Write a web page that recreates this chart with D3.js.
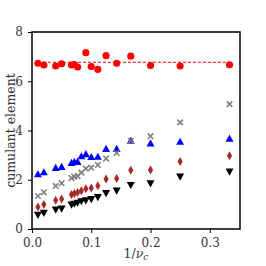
<!DOCTYPE html>
<html>
<head>
<meta charset="utf-8">
<script src="https://cdn.jsdelivr.net/npm/d3@7"></script>
<style>
  body { margin: 0; background: #fff; }
  svg { display: block; }
  text { font-family: "DejaVu Serif", "Liberation Serif", serif; }
</style>
</head>
<body>
<svg width="266" height="266"></svg>
<script>
// 1/nu_c for nu_c = 100, 50, 25, 20, 15, 14, 13, 12, 11, 10, 9, 8, 7, 6, 5, 4, 3
const nuC = [100, 50, 25, 20, 15, 14, 13, 12, 11, 10, 9, 8, 7, 6, 5, 4, 3]

const red = [6.73, 6.66, 6.62, 6.71, 6.66, 6.68, 6.58, null, 7.16, 6.60, 6.48, 7.04, 6.73, 7.02, 6.64, 6.62, 6.67]
const blue = [2.22, 2.30, 2.48, 2.52, 2.68, 2.72, 2.72, 2.95, 3.04, 2.92, 2.93, 3.25, 3.25, 3.58, 3.47, 3.54, 3.67]
const gray = [1.34, 1.49, 1.75, 1.86, 2.07, 2.13, 2.15, 2.29, 2.45, 2.49, 2.60, 2.86, 3.09, 3.58, 3.77, 4.33, 5.07]
const brown = [0.89, 1.00, 1.17, 1.22, 1.40, 1.44, 1.48, 1.55, 1.63, 1.67, 1.76, 2.03, 2.05, 2.39, 2.40, 2.74, 2.97]
const black = [0.58, 0.66, 0.79, 0.83, 0.99, 1.03, 1.07, 1.13, 1.17, 1.22, 1.30, 1.46, 1.56, 1.79, 1.86, 2.13, 2.33]
const redMean = 6.77

const xTicks = [0, 0.1, 0.2, 0.3]
const yTicks = [0, 2, 4, 6, 8]

const margin = { left: 32, right: 26, top: 32, bottom: 37 }
const width = 266
const height = 266

const svg = d3.select('svg')
const x = d3.scaleLinear().domain([0, 0.351]).range([margin.left, width - margin.right])
const y = d3.scaleLinear().domain([0, 8]).range([height - margin.bottom, margin.top])

svg.append('g')
  .attr('transform', 'translate(0,' + (height - margin.bottom) + ')')
  .call(d3.axisBottom(x).tickValues(xTicks).tickFormat(d3.format('.1f')).tickSize(4).tickPadding(5))
svg.append('g')
  .attr('transform', 'translate(' + margin.left + ',0)')
  .call(d3.axisLeft(y).tickValues(yTicks).tickFormat(d3.format('d')).tickSize(4).tickPadding(5))

svg.selectAll('.domain').remove()
svg.selectAll('.tick line').attr('stroke', '#000').attr('stroke-width', 1)
svg.selectAll('.tick text').attr('font-size', 12).attr('fill', '#333')

svg.append('rect')
  .attr('x', margin.left).attr('y', margin.top)
  .attr('width', width - margin.left - margin.right)
  .attr('height', height - margin.top - margin.bottom)
  .attr('fill', 'none').attr('stroke', '#000').attr('stroke-width', 1.5)

// dashed mean line of the red series
svg.append('line')
  .attr('x1', x(1 / nuC[0])).attr('x2', x(1 / nuC[nuC.length - 1]))
  .attr('y1', y(redMean)).attr('y2', y(redMean))
  .attr('stroke', '#ff0000').attr('stroke-width', 1).attr('stroke-dasharray', '3,2')

function pts(vals) {
  return nuC.map((n, i) => ({ x: 1 / n, v: vals[i] })).filter(d => d.v != null)
}

const series = [
  { vals: red, color: '#ff0000', path: d3.symbol(d3.symbolCircle, 40)() },
  { vals: blue, color: '#0000ff', path: 'M0,-4.2L4,3L-4,3Z' },
  { vals: gray, color: '#808080', path: d3.symbol(d3.symbolX, 22)() },
  { vals: brown, color: '#a52a2a', path: 'M0,-4.5L2.6,0L0,4.5L-2.6,0Z' },
  { vals: black, color: '#000000', path: 'M0,4.2L4,-3L-4,-3Z' },
]

series.forEach(s => {
  svg.append('g')
    .selectAll('path')
    .data(pts(s.vals))
    .join('path')
    .attr('d', s.path)
    .attr('transform', d => 'translate(' + x(d.x) + ',' + y(d.v) + ')')
    .attr('fill', s.color)
    .attr('stroke', s.color)
    .attr('stroke-width', s.color === '#808080' ? 1.6 : 0)
})

svg.append('text')
  .attr('transform', 'translate(11,' + (margin.top + (height - margin.top - margin.bottom) / 2) + ') rotate(-90)')
  .attr('text-anchor', 'middle')
  .attr('dy', '0.35em')
  .attr('font-size', 12.5)
  .attr('fill', '#333')
  .text('cumulant element')

const xl = svg.append('text')
  .attr('x', (margin.left + width - margin.right) / 2).attr('y', 258)
  .attr('text-anchor', 'middle')
  .attr('font-size', 12.5)
  .attr('fill', '#333')
xl.append('tspan').text('1/')
xl.append('tspan').attr('font-style', 'italic').text('ν')
xl.append('tspan').attr('font-style', 'italic').attr('font-size', 9).attr('dy', 2).text('c')
</script>
</body>
</html>
